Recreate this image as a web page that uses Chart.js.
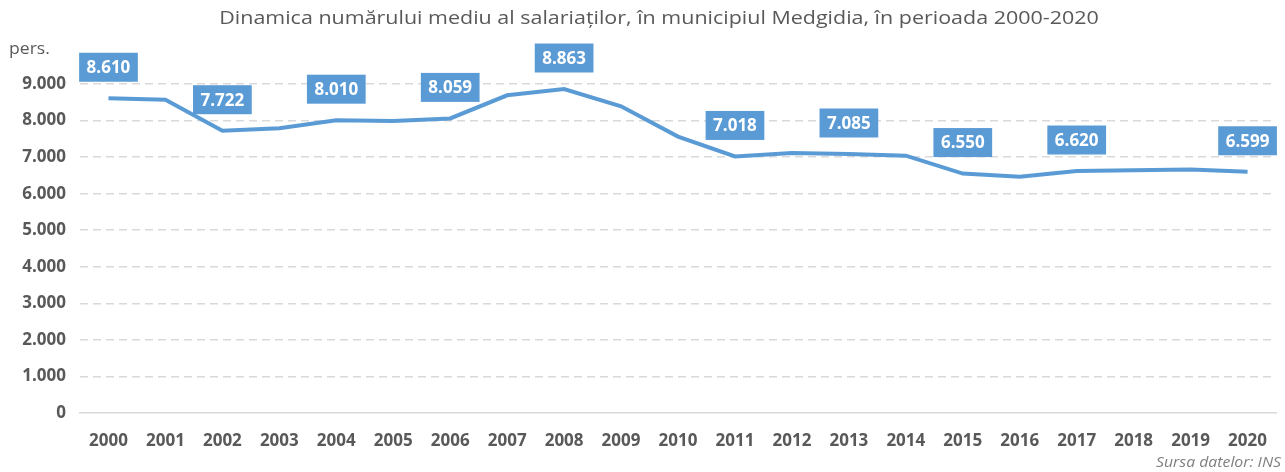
<!DOCTYPE html>
<html>
<head>
<meta charset="utf-8">
<script src="https://cdn.jsdelivr.net/npm/chart.js@4/dist/chart.umd.min.js"></script>
<style>
  html, body { margin: 0; padding: 0; background: #fff; }
  #wrap { width: 1285px; height: 472px; position: relative; }
</style>
</head>
<body>
<div id="wrap"><canvas id="salariati"></canvas></div>
<script>
const years = ['2000', '2001', '2002', '2003', '2004', '2005', '2006', '2007', '2008', '2009', '2010',
               '2011', '2012', '2013', '2014', '2015', '2016', '2017', '2018', '2019', '2020'];
const salariati = [8610, 8570, 7722, 7790, 8010, 7990, 8059, 8690, 8863, 8390, 7560,
                   7018, 7110, 7085, 7040, 6550, 6460, 6620, 6640, 6660, 6599];
// years that carry a value box in the original
const labelledYears = ['2000', '2002', '2004', '2006', '2008', '2011', '2013', '2015', '2017', '2020'];
const yMin = 0, yMax = 9000, yStep = 1000;

const titleText = 'Dinamica numărului mediu al salariaților, în municipiul Medgidia, în perioada 2000-2020';
const unitText = 'pers.';
const sourceText = 'Sursa datelor: INS';

const grey = '#595959';
const blue = '#5B9BD5';
const FONT = '"Open Sans", sans-serif';

const fmt = v => String(v).replace(/\B(?=(\d{3})+(?!\d))/g, '.');

// text drawn a little wider than the font, like the stretched original
function wideText(ctx, txt, x, y, sx) {
  ctx.save();
  ctx.translate(x, y);
  ctx.scale(sx, 1);
  ctx.fillText(txt, 0, 0);
  ctx.restore();
}

const extras = {
  id: 'extras',
  afterDatasetsDraw(chart) {
    const ctx = chart.ctx;
    const meta = chart.getDatasetMeta(0);
    ctx.save();
    // value boxes
    ctx.font = 'bold 17px ' + FONT;
    ctx.textAlign = 'center';
    ctx.textBaseline = 'middle';
    meta.data.forEach((pt, i) => {
      if (!labelledYears.includes(years[i])) return;
      const txt = fmt(salariati[i]);
      const w = ctx.measureText(txt).width + 15;
      const h = 29;
      const cx = Math.min(pt.x, chart.width - w / 2);
      const cy = pt.y - 31;
      ctx.fillStyle = blue;
      ctx.fillRect(cx - w / 2, cy - h / 2, w, h);
      ctx.fillStyle = '#fff';
      ctx.fillText(txt, cx, cy + 1);
    });

    // title
    ctx.fillStyle = grey;
    ctx.font = '19px ' + FONT;
    wideText(ctx, titleText, 659, 19, 1.13);

    // unit
    ctx.textAlign = 'left';
    ctx.font = '16px ' + FONT;
    wideText(ctx, unitText, 9, 49, 1.1);

    // source
    ctx.textAlign = 'right';
    ctx.font = 'italic 14px ' + FONT;
    ctx.fillStyle = '#7f7f7f';
    wideText(ctx, sourceText, 1281, 463, 1.13);
    ctx.restore();
  }
};

new Chart(document.getElementById('salariati'), {
  type: 'line',
  data: {
    labels: years,
    datasets: [{
      data: salariati,
      borderColor: blue,
      borderWidth: 4,
      pointRadius: 0,
      tension: 0,
      fill: false
    }]
  },
  options: {
    responsive: true,
    maintainAspectRatio: false,
    animation: false,
    layout: { padding: { top: 84, left: 0, right: 0, bottom: 0 } },
    plugins: {
      legend: { display: false },
      title: { display: false },
      tooltip: { enabled: false }
    },
    scales: {
      x: {
        offset: true,
        grid: { display: false, drawTicks: false },
        border: { display: true, color: '#D9D9D9', width: 1.5 },
        ticks: {
          color: grey,
          font: { family: FONT, size: 17, weight: 'bold' },
          padding: 18,
          maxRotation: 0,
          autoSkip: false
        },
        afterFit(scale) { scale.height = 59; }
      },
      y: {
        min: yMin,
        max: yMax,
        grid: {
          drawTicks: false,
          lineWidth: 1.5,
          color: c => (c.tick && c.tick.value === 0) ? 'rgba(0,0,0,0)' : '#D9D9D9'
        },
        border: { display: false, dash: [8, 5] },
        ticks: {
          stepSize: yStep,
          color: grey,
          font: { family: FONT, size: 17, weight: 'bold' },
          padding: 14,
          callback: v => fmt(v)
        },
        afterFit(scale) { scale.width = 80; }
      }
    }
  },
  plugins: [extras]
});
</script>
</body>
</html>
